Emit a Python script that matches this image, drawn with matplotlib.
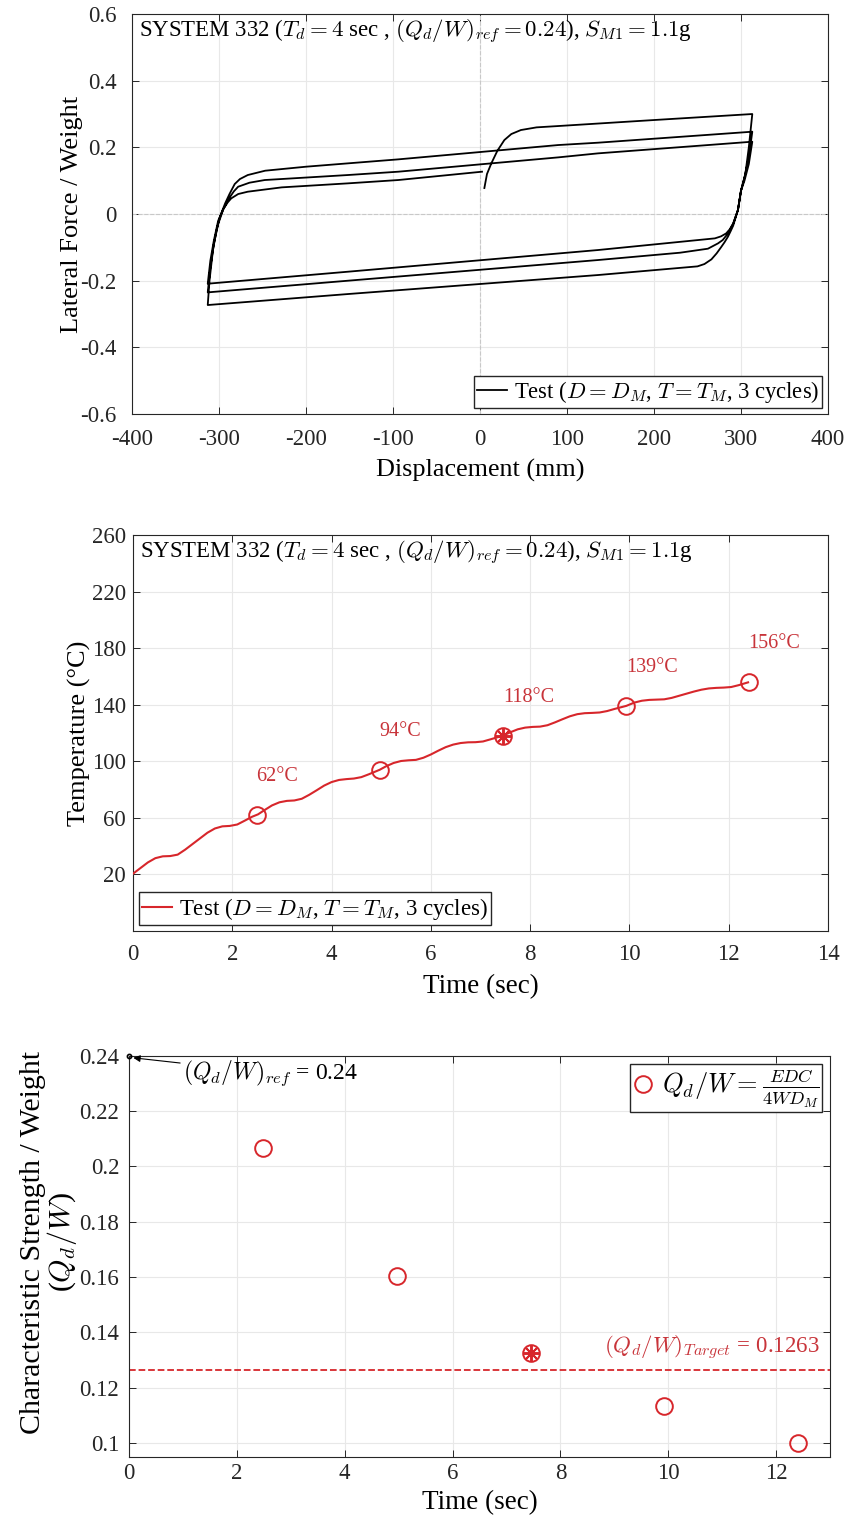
import matplotlib
matplotlib.use("Agg")
import matplotlib.pyplot as plt
from matplotlib.ticker import FixedLocator, FuncFormatter

plt.rcParams['font.family'] = ['Liberation Serif', 'DejaVu Serif']
plt.rcParams['mathtext.fontset'] = 'cm'
plt.rcParams['axes.unicode_minus'] = False

# ---------------- data ----------------
# hysteresis path (displacement mm, lateral force / weight)
disp_mm = [5, 8, 13, 20, 28, 36, 47, 65, 90, 200, 313,
           309, 305, 300, 296.5, 291, 288, 285, 281, 277, 272, 266, 258, 250, 135.6, -151.7, -313,
           -311, -307, -303, -299, -293, -288, -282, -276, -267, -247, -200, -152, -94, 90, 135.6, 313,
           309, 304, 300, 296.5, 291, 287, 283, 279, 273.6, 262, 230, 135.6, -151.7, -313,
           -310, -306, -301, -295, -289, -283, -278, -265, -247.5, -152, -94, 90, 135.6, 313,
           309, 304, 300, 296.5, 291, 287, 283, 277, 270, 135.6, -151.7, -313,
           -310, -306, -301, -295, -290, -286, -278, -267, -228, -152, -94, 2.3]
force_w = [0.078, 0.12, 0.152, 0.19, 0.222, 0.240, 0.252, 0.260, 0.264, 0.282, 0.300,
           0.20, 0.12, 0.07, 0.012, -0.035, -0.052, -0.068, -0.085, -0.100, -0.118, -0.136, -0.150, -0.157, -0.183, -0.240, -0.273,
           -0.20, -0.108, -0.05, -0.008, 0.032, 0.06, 0.09, 0.105, 0.117, 0.130, 0.142, 0.152, 0.164, 0.207, 0.214, 0.247,
           0.17, 0.11, 0.07, 0.012, -0.03, -0.050, -0.065, -0.078, -0.088, -0.104, -0.116, -0.138, -0.200, -0.235,
           -0.16, -0.09, -0.03, 0.015, 0.045, 0.068, 0.082, 0.094, 0.102, 0.117, 0.127, 0.170, 0.182, 0.217,
           0.15, 0.10, 0.07, 0.012, -0.028, -0.046, -0.058, -0.067, -0.073, -0.108, -0.173, -0.209,
           -0.14, -0.08, -0.02, 0.015, 0.035, 0.047, 0.06, 0.067, 0.080, 0.092, 0.102, 0.127]

# temperature history
time_s = [0.00, 0.15, 0.30, 0.45, 0.60, 0.75, 0.90, 1.05, 1.20, 1.35, 1.50, 1.65, 1.80, 1.95,
          2.10, 2.25, 2.40, 2.52, 2.65, 2.80, 2.95, 3.10, 3.25, 3.40, 3.55, 3.70, 3.85, 4.00,
          4.15, 4.30, 4.45, 4.60, 4.75, 4.97, 5.10, 5.25, 5.40, 5.55, 5.70, 5.85, 6.00, 6.15,
          6.30, 6.45, 6.60, 6.75, 6.90, 7.05, 7.20, 7.46, 7.60, 7.75, 7.90, 8.05, 8.20, 8.35,
          8.50, 8.65, 8.80, 8.95, 9.10, 9.25, 9.40, 9.55, 9.70, 9.94, 10.10, 10.25, 10.40, 10.55,
          10.70, 10.85, 11.00, 11.15, 11.30, 11.45, 11.60, 11.75, 11.90, 12.05, 12.20, 12.39]
temp_c = [20.5, 24.5, 28.5, 31.5, 32.8, 33.0, 34.0, 37.5, 41.5, 45.5, 49.5, 52.5, 54.0, 54.3,
          55.3, 58.0, 60.8, 62.5, 65.5, 68.8, 71.0, 72.0, 72.3, 73.5, 76.3, 79.5, 82.8, 85.3,
          86.8, 87.4, 87.8, 88.8, 90.8, 94.0, 96.5, 98.8, 100.2, 100.7, 101.0, 102.5, 104.8, 107.5,
          110.0, 111.8, 112.9, 113.4, 113.5, 114.0, 115.5, 118.2, 120.5, 122.6, 123.8, 124.3, 124.5, 125.5,
          127.5, 129.7, 131.8, 133.3, 134.0, 134.2, 134.5, 135.5, 137.0, 139.2, 141.5, 142.8, 143.4, 143.6,
          143.8, 144.8, 146.3, 147.8, 149.3, 150.6, 151.5, 151.9, 152.1, 152.5, 153.8, 155.8]

# cycle markers
cycle_time = [2.49, 4.97, 7.45, 9.93, 12.40]
cycle_temp = [62, 94, 118, 139, 156]
cycle_qdw = [0.2065, 0.1605, 0.1325, 0.1135, 0.100]
target_idx = 2
qdw_ref = 0.24
qdw_target = 0.1263

RED = '#d7262b'
TXT_RED = '#c8343a'
GRID = '#e8e8e8'
title_txt = r"SYSTEM 332 ($T_d = 4$ sec , $(Q_d/W)_{ref} = 0.24$), $S_{M1} = 1.1$g"
leg_txt = r"Test ($D = D_M$, $T = T_M$, 3 cycles)"

fmt = FuncFormatter(lambda v, p: f"{v:g}")

def style(ax, xpad, ypad):
    ax.tick_params(direction='in', top=True, right=True, labelsize=16.5, length=5, width=0.7,
                   colors='#262626')
    ax.tick_params(axis='x', pad=xpad)
    ax.tick_params(axis='y', pad=ypad)
    for s in ax.spines.values():
        s.set_color('#262626')
        s.set_linewidth(0.8)
    ax.grid(True, color=GRID, lw=0.8)
    ax.set_axisbelow(True)
    ax.yaxis.set_major_formatter(fmt)
    ax.xaxis.set_major_formatter(fmt)

fig = plt.figure(figsize=(8.52, 15.25), dpi=100)

# ---------------- top: hysteresis ----------------
ax1 = fig.add_axes([0.1550, 0.7285, 0.8168, 0.2623])
style(ax1, 11, 11)
ax1.axhline(0, color='#c8c8c8', ls='--', lw=0.8, zorder=1)
ax1.axvline(0, color='#c8c8c8', ls='--', lw=0.8, zorder=1)
ax1.plot(disp_mm, force_w, color='black', lw=1.3, label=leg_txt, zorder=3)
ax1.set_xlim(-400, 400)
ax1.set_ylim(-0.6, 0.6)
ax1.xaxis.set_major_locator(FixedLocator([-400, -300, -200, -100, 0, 100, 200, 300, 400]))
ax1.yaxis.set_major_locator(FixedLocator([-0.6, -0.4, -0.2, 0, 0.2, 0.4, 0.6]))
ax1.set_xlabel('Displacement (mm)', fontsize=18.8, labelpad=6)
ax1.set_ylabel('Lateral Force / Weight', fontsize=19, labelpad=-2)
ax1.text(0.010, 0.955, title_txt, transform=ax1.transAxes, fontsize=16.5, va='center', ha='left')
ax1.legend(loc='lower right', fontsize=16.3, handlelength=1.3, handletextpad=0.3, borderpad=0.15,
           borderaxespad=0.25, fancybox=False, edgecolor='#262626', framealpha=1)

# ---------------- middle: temperature ----------------
ax2 = fig.add_axes([0.1561, 0.3895, 0.8157, 0.2597])
style(ax2, 9, 5)
ax2.plot(time_s, temp_c, color=RED, lw=1.5, label=leg_txt, zorder=3)
for i, (t, T) in enumerate(zip(cycle_time, cycle_temp)):
    ax2.plot([t], [T], 'o', ms=12, mfc='none', mec=RED, mew=1.4, zorder=4)
    if i == target_idx:
        ax2.plot([t], [T], marker=(8, 2, 0), ms=11, color=RED, mew=1.4, zorder=4)
    ax2.text(t, T + 27, f"{T}°C", color=TXT_RED, fontsize=14.5, ha='left', va='center')
ax2.set_xlim(0, 14)
ax2.set_ylim(-20, 260)
ax2.xaxis.set_major_locator(FixedLocator([0, 2, 4, 6, 8, 10, 12, 14]))
ax2.yaxis.set_major_locator(FixedLocator([20, 60, 100, 140, 180, 220, 260]))
ax2.set_xlabel('Time (sec)', fontsize=19.5, labelpad=7)
ax2.set_ylabel('Temperature (°C)', fontsize=19, labelpad=1)
ax2.text(0.010, 0.955, title_txt, transform=ax2.transAxes, fontsize=16.5, va='center', ha='left')
ax2.legend(loc='lower left', fontsize=16.5, handlelength=1.3, handletextpad=0.3, borderpad=0.15,
           borderaxespad=0.25, fancybox=False, edgecolor='#262626', framealpha=1)

# ---------------- bottom: Qd/W ----------------
ax3 = fig.add_axes([0.1514, 0.0446, 0.8228, 0.2632])
style(ax3, 4, 7)
ax3.axhline(qdw_target, color=RED, ls='--', lw=1.3, zorder=2)
ax3.plot(cycle_time, cycle_qdw, 'o', ls='none', ms=12, mfc='none', mec=RED, mew=1.4,
         label=r"$Q_d/W = \frac{EDC}{4WD_M}$", zorder=4)
ax3.plot([cycle_time[target_idx]], [cycle_qdw[target_idx]], marker=(8, 2, 0), ms=11,
         color=RED, mew=1.4, zorder=4)
ax3.plot([0], [qdw_ref], 'o', ms=3, color='black', mfc='none', mew=1.2, clip_on=False, zorder=5)
ax3.annotate(r"$(Q_d/W)_{ref}$ = 0.24", xy=(0.08, 0.2392), xytext=(1.0, 0.2337),
             fontsize=17, va='center', ha='left',
             arrowprops=dict(arrowstyle='-|>', color='black', lw=0.8, mutation_scale=10,
                             shrinkA=0, shrinkB=0))
ax3.text(12.8, 0.1344, r"$(Q_d/W)_{Target}$ = 0.1263", color=TXT_RED, fontsize=16.5,
         ha='right', va='center')
ax3.set_xlim(0, 13)
ax3.set_ylim(0.095, 0.24)
ax3.xaxis.set_major_locator(FixedLocator([0, 2, 4, 6, 8, 10, 12]))
ax3.yaxis.set_major_locator(FixedLocator([0.1, 0.12, 0.14, 0.16, 0.18, 0.2, 0.22, 0.24]))
ax3.set_xlabel('Time (sec)', fontsize=19.5, labelpad=5)
ax3.set_ylabel('Characteristic Strength / Weight\n' + r'($Q_d/W$)', fontsize=21.5, labelpad=5,
               linespacing=0.95)
ax3.yaxis.set_label_coords(-0.071, 0.535)
ax3.legend(loc='upper right', fontsize=19, handlelength=0.8, handletextpad=0.3, borderpad=0.1,
           borderaxespad=0.3, fancybox=False, edgecolor='#262626', framealpha=1)

fig.savefig('out.png', dpi=100)
